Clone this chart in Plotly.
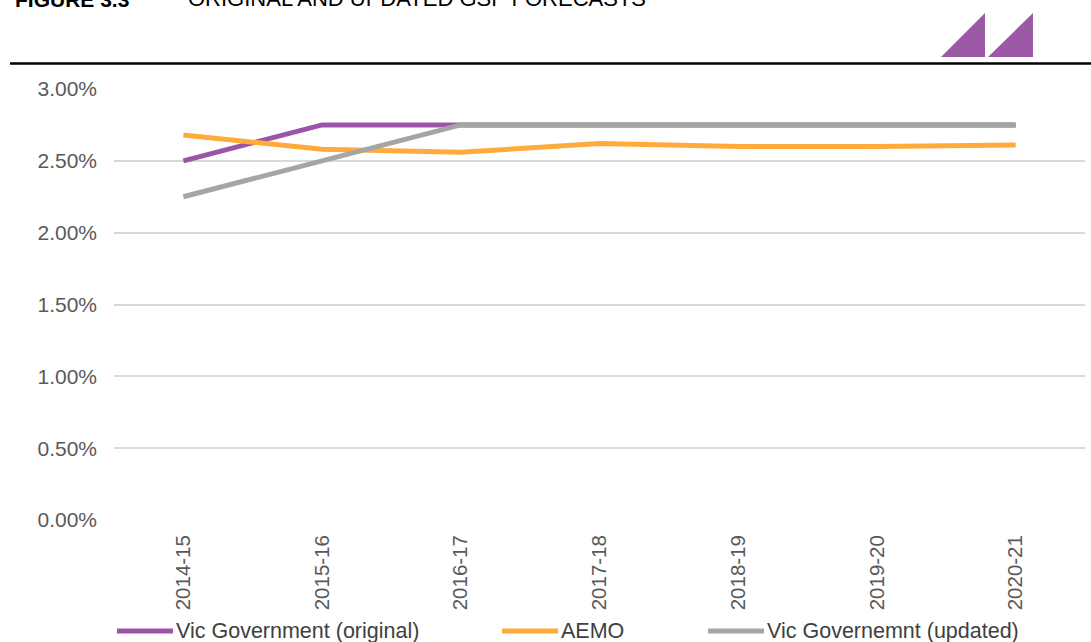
import plotly.graph_objects as go

categories = ["2014-15", "2015-16", "2016-17", "2017-18", "2018-19", "2019-20", "2020-21"]
vic_original = [0.0250, 0.0275, 0.0275, 0.0275, 0.0275, 0.0275, 0.0275]
aemo = [0.0268, 0.0258, 0.0256, 0.0262, 0.0260, 0.0260, 0.0261]
vic_updated = [0.0225, 0.0250, 0.0275, 0.0275, 0.0275, 0.0275, 0.0275]
series_names = ["Vic Government (original)", "AEMO", "Vic Governemnt (updated)"]
series_colors = ["#9B54A8", "#FFAB3B", "#A5A5A5"]
y_ticks = [0, 0.005, 0.01, 0.015, 0.02, 0.025, 0.03]

W, H = 1091, 642
L, R, T, B = 114, 6, 89, 122
pw, ph = W - L - R, H - T - B


def px(x):
    return (x - L) / pw


def py(y):
    return (H - B - y) / ph


fig = go.Figure()
for name, vals, col in zip(series_names, [vic_original, aemo, vic_updated], series_colors):
    fig.add_trace(go.Scatter(x=categories, y=vals, name=name, mode="lines",
                             line=dict(color=col, width=5), showlegend=False))

shapes = []
annotations = []
# manual legend
leg_x = [117, 502, 708]
for name, col, x0 in zip(series_names, series_colors, leg_x):
    shapes.append(dict(type="line", xref="paper", yref="paper", x0=px(x0), x1=px(x0 + 56),
                       y0=py(631), y1=py(631), line=dict(color=col, width=5)))
    annotations.append(dict(xref="paper", yref="paper", x=px(x0 + 57), y=py(630.5), text=name,
                            showarrow=False, xanchor="left", yanchor="middle",
                            font=dict(family="Liberation Sans", size=21.5, color="#404040")))

# header rule
shapes.append(dict(type="line", xref="paper", yref="paper", x0=px(10), x1=px(1091),
                   y0=py(63.5), y1=py(63.5), line=dict(color="black", width=2.5)))
# logo triangles
for xl, xr in [(941, 985), (988, 1033)]:
    path = "M{},{} L{},{} L{},{} Z".format(px(xl), py(57), px(xr), py(57), px(xr), py(13))
    shapes.append(dict(type="path", xref="paper", yref="paper", path=path,
                       fillcolor="#9B59A6", line=dict(width=0)))

# title
annotations.append(dict(xref="paper", yref="paper", x=px(13), y=py(13), text="<b>FIGURE 3.3</b>",
                        showarrow=False, xanchor="left", yanchor="bottom",
                        font=dict(family="Liberation Sans", size=21, color="black")))
annotations.append(dict(xref="paper", yref="paper", x=px(186), y=py(13),
                        text="ORIGINAL AND UPDATED GSP FORECASTS",
                        showarrow=False, xanchor="left", yanchor="bottom",
                        font=dict(family="Liberation Sans", size=22, color="black")))

fig.update_layout(
    width=W, height=H,
    margin=dict(l=L, r=R, t=T, b=B),
    paper_bgcolor="white", plot_bgcolor="white",
    shapes=shapes, annotations=annotations,
    xaxis=dict(type="category", range=[-0.5, 6.5], tickangle=-90, showgrid=False,
               zeroline=False, showline=False, ticks="", ticklabelstandoff=10,
               tickfont=dict(family="Liberation Sans", size=20.5, color="#595959")),
    yaxis=dict(range=[0, 0.03], tickvals=y_ticks, tickformat=".2%", showgrid=True,
               gridcolor="#D9D9D9", gridwidth=1.5, zeroline=False, showline=False, ticks="",
               ticklabelstandoff=16,
               tickfont=dict(family="Liberation Sans", size=21, color="#595959")),
)

fig.write_html("out.html")
